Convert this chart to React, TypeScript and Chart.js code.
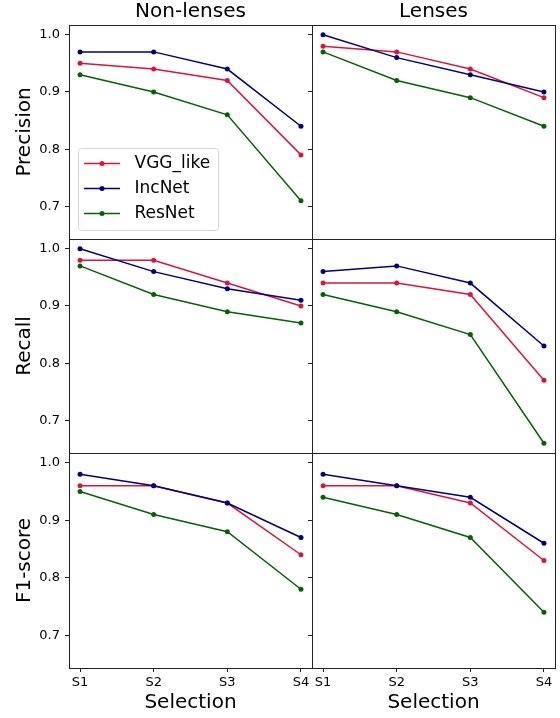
import React, { useEffect, useRef } from 'react';
import { Chart, registerables } from 'chart.js';

Chart.register(...registerables);

// ---- data ----
const SELECTIONS = ['S1', 'S2', 'S3', 'S4'];
const MODELS = ['VGG_like', 'IncNet', 'ResNet'];
const COLORS = ['#DC143C', '#000080', '#006400'];
const Y_TICKS = [0.7, 0.8, 0.9, 1.0];
const COLUMN_TITLES = ['Non-lenses', 'Lenses'];
const ROW_LABELS = ['Precision', 'Recall', 'F1-score'];
const X_TITLE = 'Selection';

const nlPrecVGG = [0.95, 0.94, 0.92, 0.79];
const nlPrecInc = [0.97, 0.97, 0.94, 0.84];
const nlPrecRes = [0.93, 0.9, 0.86, 0.71];
const lPrecVGG = [0.98, 0.97, 0.94, 0.89];
const lPrecInc = [1.0, 0.96, 0.93, 0.9];
const lPrecRes = [0.97, 0.92, 0.89, 0.84];

const nlRecVGG = [0.98, 0.98, 0.94, 0.9];
const nlRecInc = [1.0, 0.96, 0.93, 0.91];
const nlRecRes = [0.97, 0.92, 0.89, 0.87];
const lRecVGG = [0.94, 0.94, 0.92, 0.77];
const lRecInc = [0.96, 0.97, 0.94, 0.83];
const lRecRes = [0.92, 0.89, 0.85, 0.66];

const nlF1VGG = [0.96, 0.96, 0.93, 0.84];
const nlF1Inc = [0.98, 0.96, 0.93, 0.87];
const nlF1Res = [0.95, 0.91, 0.88, 0.78];
const lF1VGG = [0.96, 0.96, 0.93, 0.83];
const lF1Inc = [0.98, 0.96, 0.94, 0.86];
const lF1Res = [0.94, 0.91, 0.87, 0.74];

const PANELS = [
  [[nlPrecVGG, nlPrecInc, nlPrecRes], [lPrecVGG, lPrecInc, lPrecRes]],
  [[nlRecVGG, nlRecInc, nlRecRes], [lRecVGG, lRecInc, lRecRes]],
  [[nlF1VGG, nlF1Inc, nlF1Res], [lF1VGG, lF1Inc, lF1Res]],
];

// axis ranges (matplotlib-like 5% margins)
const Y_MIN = 0.643;
const Y_MAX = 1.017;
const X_MIN = -0.15;
const X_MAX = 3.15;

const FONT = 'DejaVu Sans';
Chart.defaults.font.family = FONT;
Chart.defaults.color = '#000';

function makeLegendImage(color: string) {
  const c = document.createElement('canvas');
  c.width = 42;
  c.height = 7;
  const ctx = c.getContext('2d')!;
  ctx.strokeStyle = color;
  ctx.lineWidth = 1.5;
  ctx.beginPath();
  ctx.moveTo(0, 3.5);
  ctx.lineTo(36, 3.5);
  ctx.stroke();
  ctx.fillStyle = color;
  ctx.beginPath();
  ctx.arc(18, 3.5, 2.5, 0, Math.PI * 2);
  ctx.fill();
  return c;
}

const framePlugin = {
  id: 'frame',
  afterDraw(chart: any) {
    const { ctx, chartArea: ca } = chart;
    ctx.save();
    ctx.strokeStyle = '#222';
    ctx.lineWidth = 1;
    ctx.strokeRect(ca.left + 0.5, ca.top + 0.5, ca.right - ca.left, ca.bottom - ca.top);
    ctx.restore();
  },
};

const legendPlacer = {
  id: 'legendPlacer',
  afterLayout(chart: any) {
    if (!chart.options.plugins.legend.display) return;
    const lg = chart.legend;
    const ca = chart.chartArea;
    const fl = ca.left + 9;
    const fb = ca.bottom - 9;
    const ft = fb - 82;
    chart.$legendFrame = { x: fl, y: ft, w: 140, h: 82 };
    lg.left = fl - 2;
    lg.top = ft - 1;
    lg.width = 150;
    lg.height = 100;
    lg.right = lg.left + 150;
    lg.bottom = lg.top + 100;
  },
  beforeDraw(chart: any) {
    const f = chart.$legendFrame;
    if (!f) return;
    const { ctx } = chart;
    ctx.save();
    ctx.beginPath();
    const r = 3;
    const x = f.x + 0.5, y = f.y + 0.5, w = f.w, h = f.h;
    ctx.moveTo(x + r, y);
    ctx.lineTo(x + w - r, y);
    ctx.arcTo(x + w, y, x + w, y + r, r);
    ctx.lineTo(x + w, y + h - r);
    ctx.arcTo(x + w, y + h, x + w - r, y + h, r);
    ctx.lineTo(x + r, y + h);
    ctx.arcTo(x, y + h, x, y + h - r, r);
    ctx.lineTo(x, y + r);
    ctx.arcTo(x, y, x + r, y, r);
    ctx.closePath();
    ctx.fillStyle = 'rgba(255,255,255,0.8)';
    ctx.fill();
    ctx.strokeStyle = '#d6d6d6';
    ctx.lineWidth = 1;
    ctx.stroke();
    ctx.restore();
  },
};

function Panel({ row, col }: { row: number; col: number }) {
  const ref = useRef<HTMLCanvasElement>(null);
  const left = col === 0 ? 0 : 308;
  const width = col === 0 ? 316 : 252;
  const top = [0, 235, 449][row];
  const height = [243, 222, 269][row];

  useEffect(() => {
    const series = PANELS[row][col];
    const showLegend = row === 0 && col === 0;
    const chart = new Chart(ref.current!, {
      type: 'line',
      data: {
        datasets: MODELS.map((m, i) => ({
          label: m,
          data: series[i].map((v, j) => ({ x: j, y: v })),
          borderColor: COLORS[i],
          backgroundColor: COLORS[i],
          borderWidth: 1.5,
          pointRadius: 2.5,
          pointBorderWidth: 0,
          pointHoverRadius: 2.5,
          tension: 0,
          order: MODELS.length - i,
        })),
      },
      options: {
        responsive: false,
        animation: false,
        events: [],
        layout: {
          autoPadding: false,
          padding: {
            left: 0,
            right: col === 0 ? 4 : 5,
            top: row === 0 ? 0 : 4,
            bottom: row === 2 ? 0 : 4,
          },
        },
        plugins: {
          tooltip: { enabled: false },
          title: {
            display: row === 0,
            text: COLUMN_TITLES[col],
            fullSize: false,
            font: { size: 20, weight: 'normal', family: FONT },
            color: '#000',
            padding: { top: 0, bottom: 1 },
          },
          legend: {
            display: showLegend,
            position: showLegend ? 'chartArea' : 'top',
            align: 'start',
            labels: {
              usePointStyle: true,
              pointStyleWidth: 42,
              padding: 8,
              color: '#000',
              font: { size: 17, family: FONT },
              sort: (a: any, b: any) => a.datasetIndex - b.datasetIndex,
              generateLabels: (ch: any) => {
                const items = (Chart.defaults.plugins.legend.labels as any).generateLabels(ch);
                return items.map((it: any) => ({
                  ...it,
                  pointStyle: makeLegendImage(COLORS[it.datasetIndex]),
                }));
              },
            },
          },
        },
        scales: {
          x: {
            type: 'linear',
            min: X_MIN,
            max: X_MAX,
            display: row === 2,
            afterBuildTicks: (s: any) => {
              s.ticks = SELECTIONS.map((_, i) => ({ value: i }));
            },
            afterFit: (s: any) => {
              s.height = row === 2 ? 50 : 0;
              s.paddingLeft = 0;
              s.paddingRight = 0;
            },
            ticks: {
              padding: 3,
              font: { size: 13, family: FONT },
              color: '#000',
              maxRotation: 0,
              autoSkip: false,
              callback: (v: any) => SELECTIONS[Math.round(Number(v))] ?? '',
            },
            grid: {
              display: true,
              drawOnChartArea: false,
              drawTicks: true,
              tickLength: 4,
              tickColor: '#222',
              tickWidth: 1,
            },
            border: { display: false },
            title: {
              display: row === 2,
              text: X_TITLE,
              font: { size: 20, family: FONT },
              color: '#000',
              padding: { top: 0, bottom: 3 },
            },
          },
          y: {
            type: 'linear',
            min: Y_MIN,
            max: Y_MAX,
            afterBuildTicks: (s: any) => {
              s.ticks = Y_TICKS.map((v) => ({ value: v }));
            },
            afterFit: (s: any) => {
              s.width = col === 0 ? 69 : 4;
              s.paddingTop = 0;
              s.paddingBottom = 0;
            },
            ticks: {
              display: col === 0,
              padding: 5,
              font: { size: 13, family: FONT },
              color: '#000',
              callback: (v: any) => Number(v).toFixed(1),
            },
            grid: {
              display: true,
              drawOnChartArea: false,
              drawTicks: true,
              tickLength: 4,
              tickColor: '#222',
              tickWidth: 1,
            },
            border: { display: false },
            title: {
              display: col === 0,
              text: ROW_LABELS[row],
              font: { size: 20, family: FONT },
              color: '#000',
              padding: { top: 13, bottom: 0 },
            },
          },
        },
      } as any,
      plugins: [framePlugin, legendPlacer],
    });
    return () => chart.destroy();
  }, [row, col]);

  return (
    <canvas
      ref={ref}
      width={width}
      height={height}
      style={{ position: 'absolute', left, top, width, height }}
    />
  );
}

export default function App() {
  return (
    <div
      style={{
        position: 'absolute',
        left: 0,
        top: 0,
        width: 560,
        height: 718,
        background: '#fff',
        overflow: 'hidden',
      }}
    >
      {[0, 1, 2].map((r) =>
        [0, 1].map((c) => <Panel key={`${r}-${c}`} row={r} col={c} />)
      )}
    </div>
  );
}
